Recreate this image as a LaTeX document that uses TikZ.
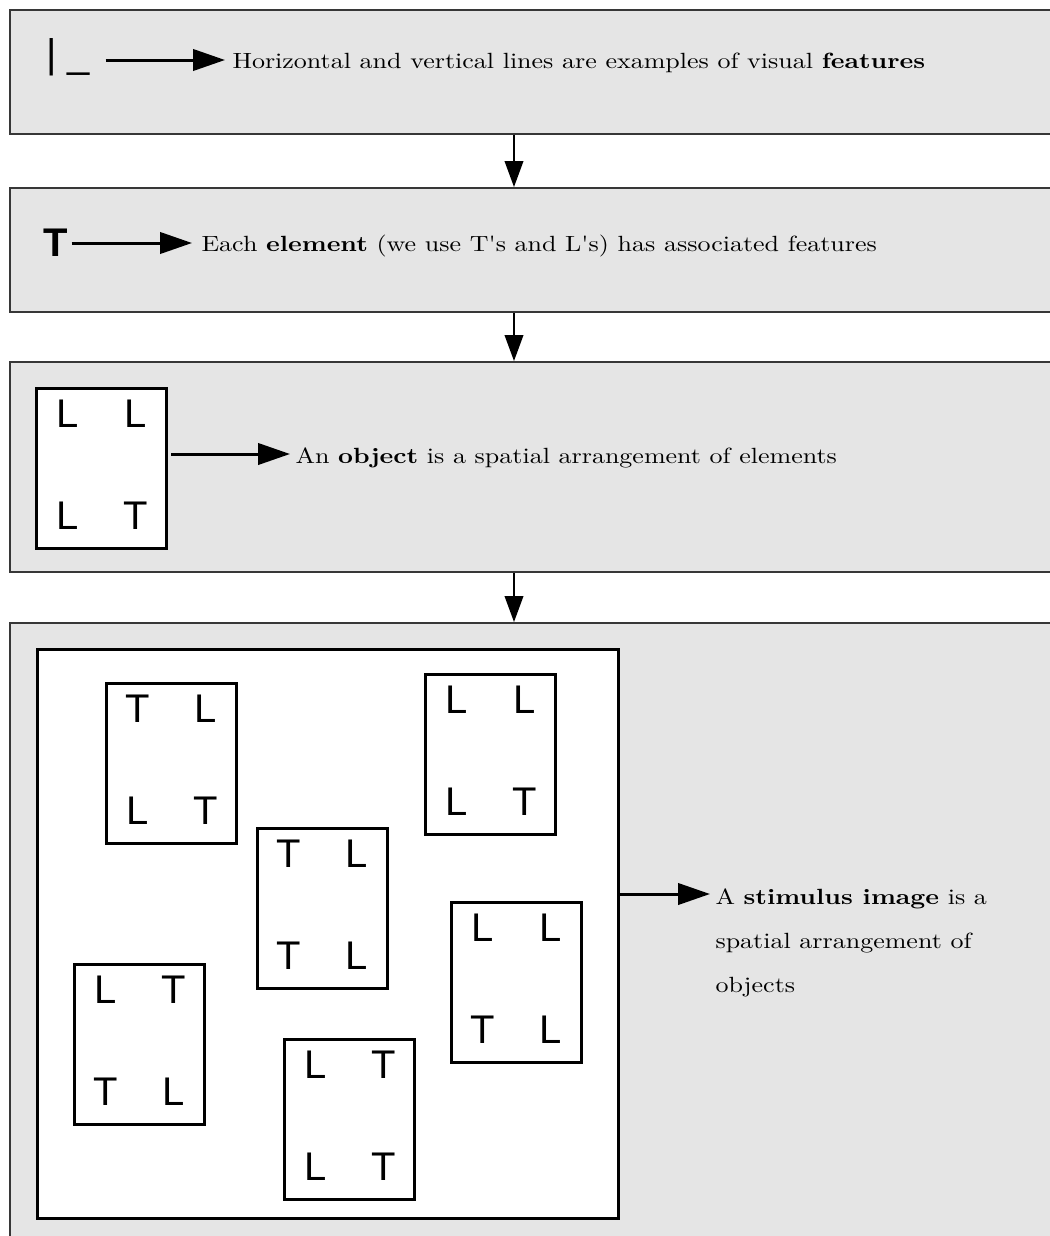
\documentclass[tikz,border=0pt]{standalone}
\usepackage{fontspec}
\newfontfamily\hv{Liberation Sans}
\usetikzlibrary{arrows.meta,calc}
\definecolor{panelfill}{RGB}{229,229,229}
\definecolor{panelline}{RGB}{55,55,55}
\newcommand\objat[7]{%
  \node[objbox] (#1) at (#2,#3) {};
  \node[letter] (#1a) at ($(#1.north west)+(32.5,27)$) {#4};
  \node[letter] (#1b) at ($(#1.north west)+(101,27)$) {#5};
  \node[letter] (#1c) at ($(#1.north west)+(32.5,129)$) {#6};
  \node[letter] (#1d) at ($(#1.north west)+(101,129)$) {#7};
}
\begin{document}
\begin{tikzpicture}[x=0.75pt,y=-0.75pt,
  panel/.style={draw=panelline,line width=1.5pt,fill=panelfill,rectangle,inner sep=0pt,anchor=north west,minimum width=795.75pt},
  objbox/.style={draw=black,line width=2.25pt,fill=white,rectangle,inner sep=0pt,anchor=north west,minimum width=97.5pt,minimum height=120pt},
  letter/.style={font=\hv\fontsize{30}{30}\selectfont,inner sep=0pt},
  lbl/.style={inner sep=0pt,anchor=base west,xscale=1.95,yscale=1.65,font=\fontsize{10}{20}\selectfont,align=left},
  harrow/.style={line width=2.25pt,-{Triangle[length=24pt,width=16pt]}},
  varrow/.style={line width=1.3pt,-{Triangle[length=19.5pt,width=14pt]}},
]
\useasboundingbox (0,0) rectangle (1050,1236);
\clip (0,0) rectangle (1050,1236);
% panels
\node[panel,minimum height=93pt] (p1) at (9,9) {};
\node[panel,minimum height=93pt] (p2) at (9,187) {};
\node[panel,minimum height=157.5pt] (p3) at (9,361) {};
\node[panel,minimum height=478.5pt] (p4) at (9,622) {};
\coordinate (ax) at (514,0);
\draw[varrow] (p1.south -| ax) -- (p2.north -| ax);
\draw[varrow] (p2.south -| ax) -- (p3.north -| ax);
\draw[varrow] (p3.south -| ax) -- (p4.north -| ax);
% panel 1
\node[inner sep=0pt,anchor=base west,font=\hv\fontsize{30}{30}\selectfont] (f1) at (45.8,67.6) {| \_};
\node[lbl] (t1) at (232,68) {Horizontal and vertical lines are examples of visual \textbf{features}};
\coordinate (a1y) at (0,60);
\draw[harrow,shorten <=11.6pt,shorten >=5.25pt] (f1.east |- a1y) -- (t1.base west |- a1y);
% panel 2
\node[inner sep=0pt,anchor=base west,font=\hv\bfseries\fontsize{30}{30}\selectfont] (f2) at (43,256) {T};
\node[lbl] (t2) at (201,251) {Each \textbf{element} (we use T\textquotesingle s and L\textquotesingle s) has associated features};
\coordinate (a2y) at (0,243);
\draw[harrow,shorten <=2.7pt,shorten >=6.75pt] (f2.east |- a2y) -- (t2.base west |- a2y);
% panel 3
\objat{o0}{35}{387}{L}{L}{L}{T}
\node[lbl] (t3) at (295,463) {An \textbf{object} is a spatial arrangement of elements};
\coordinate (a3y) at (0,454);
\draw[harrow,shorten <=2.25pt,shorten >=3.75pt] (o0.east |- a3y) -- (t3.base west |- a3y);
% panel 4
\node[objbox,minimum width=435.75pt,minimum height=426.75pt] (big) at (36,648) {};
\objat{o1}{105}{682}{T}{L}{L}{T}
\objat{o2}{424}{673}{L}{L}{L}{T}
\objat{o3}{256}{827}{T}{L}{T}{L}
\objat{o4}{450}{901}{L}{L}{T}{L}
\objat{o5}{73}{963}{L}{T}{T}{L}
\objat{o6}{283}{1038}{L}{T}{L}{T}
\node[lbl] (t4) at (715,992) {A \textbf{stimulus image} is a\\spatial arrangement of\\objects};
\coordinate (a4y) at (0,894);
\draw[harrow,shorten >=3.75pt] (big.east |- a4y) -- (t4.base west |- a4y);
\end{tikzpicture}
\end{document}
